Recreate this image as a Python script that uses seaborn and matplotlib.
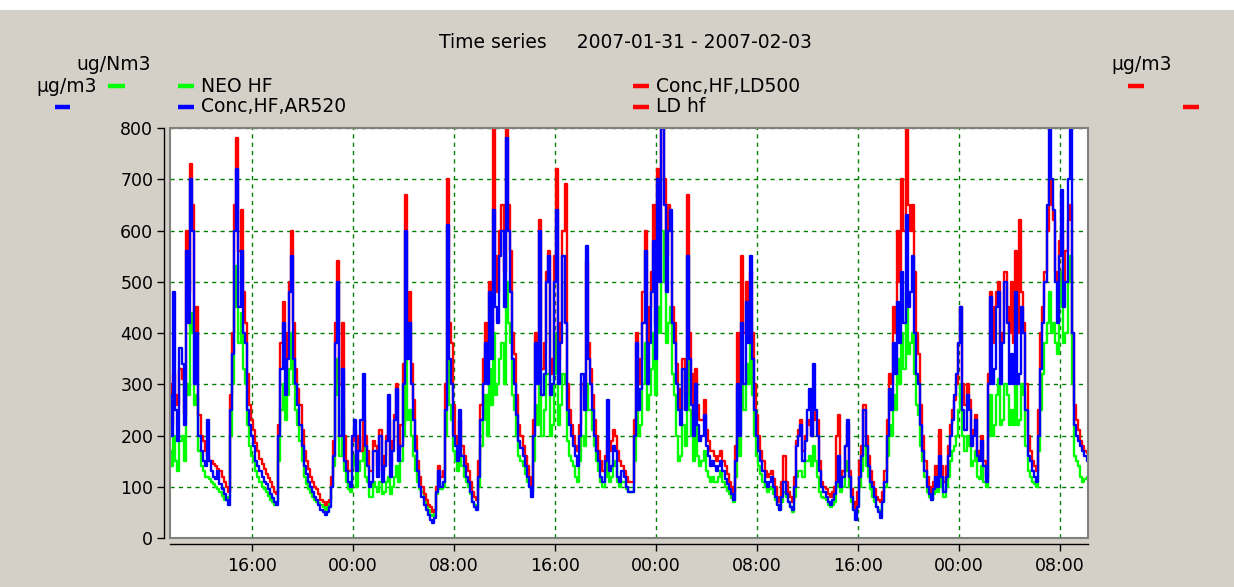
import numpy as np
import pandas as pd
import matplotlib
matplotlib.use("Agg")
import matplotlib.pyplot as plt
import matplotlib.dates as mdates
from matplotlib.lines import Line2D
from matplotlib.patches import Rectangle
import seaborn as sns

# ---------------- data (10-minute samples from 2007-01-31 09:30) ----------------
start_time = "2007-01-31 09:30"
step = "10min"

blue_ar520 = [
    280, 200, 480, 250, 190, 370, 340, 220, 560, 420, 700, 600, 300, 400, 200, 170, 150, 140, 230, 150,
    130, 120, 115, 130, 105, 95, 85, 75, 65, 250, 360, 600, 720, 450, 560, 400, 380, 250, 220, 200,
    180, 150, 140, 130, 120, 110, 105, 95, 85, 78, 70, 65, 200, 330, 420, 280, 350, 480, 550, 350,
    300, 260, 220, 180, 140, 125, 110, 100, 90, 80, 75, 65, 55, 50, 45, 50, 60, 100, 160, 380,
    500, 200, 330, 150, 130, 110, 100, 200, 230, 130, 170, 230, 320, 180, 140, 100, 110, 170, 170, 120,
    200, 110, 140, 190, 280, 120, 170, 230, 290, 150, 180, 300, 600, 350, 420, 300, 230, 170, 130, 100,
    80, 65, 55, 45, 35, 30, 40, 90, 130, 100, 110, 250, 610, 350, 300, 200, 180, 150, 250, 160,
    140, 120, 110, 90, 70, 60, 55, 120, 230, 300, 380, 300, 480, 350, 640, 450, 420, 550, 600, 450,
    780, 600, 480, 350, 300, 240, 190, 175, 160, 140, 120, 100, 80, 200, 380, 300, 600, 280, 320, 500,
    550, 280, 300, 500, 640, 300, 380, 550, 420, 250, 220, 200, 180, 160, 140, 200, 320, 250, 570, 350,
    300, 250, 200, 170, 150, 120, 110, 150, 270, 130, 140, 180, 170, 120, 110, 130, 120, 100, 90, 90,
    90, 200, 380, 250, 290, 420, 560, 300, 380, 480, 580, 350, 700, 500, 800, 650, 480, 600, 640, 420,
    380, 300, 250, 220, 330, 250, 550, 350, 260, 200, 300, 220, 190, 200, 240, 180, 160, 140, 150, 140,
    130, 140, 150, 130, 115, 105, 95, 85, 75, 150, 300, 200, 420, 300, 460, 380, 550, 350, 250, 200,
    170, 150, 130, 110, 100, 110, 120, 100, 80, 65, 55, 80, 110, 85, 70, 60, 55, 100, 180, 200,
    220, 150, 190, 250, 290, 200, 340, 250, 200, 130, 100, 90, 80, 70, 65, 75, 85, 110, 160, 100,
    120, 180, 230, 120, 80, 55, 35, 60, 120, 160, 250, 180, 140, 110, 100, 80, 60, 50, 40, 70,
    110, 200, 290, 250, 380, 320, 460, 380, 520, 420, 630, 450, 480, 550, 400, 320, 300, 220, 170, 130,
    100, 85, 75, 95, 120, 100, 160, 120, 90, 120, 160, 200, 230, 280, 320, 380, 450, 250, 210, 280,
    250, 180, 200, 230, 160, 150, 190, 140, 110, 300, 470, 300, 330, 450, 480, 300, 380, 500, 420, 300,
    360, 300, 480, 300, 320, 450, 400, 250, 160, 150, 130, 120, 110, 200, 330, 420, 500, 650, 800, 700,
    640, 500, 420, 550, 680, 450, 500, 700, 800, 400, 220, 200, 190, 180, 170, 160, 150,
]

red_ld500 = [
    300, 220, 320, 280, 260, 330, 310, 240, 600, 480, 730, 650, 400, 450, 240, 200, 190, 170, 160, 150,
    150, 145, 140, 135, 130, 120, 110, 100, 90, 280, 400, 650, 780, 560, 640, 480, 420, 320, 260, 230,
    210, 185, 170, 155, 145, 135, 125, 118, 110, 100, 90, 85, 220, 380, 460, 330, 400, 500, 600, 420,
    330, 290, 260, 210, 170, 150, 135, 120, 110, 100, 95, 85, 75, 70, 65, 70, 75, 120, 190, 420,
    540, 300, 420, 200, 150, 130, 130, 190, 210, 150, 200, 170, 230, 200, 170, 130, 130, 190, 180, 140,
    210, 130, 160, 200, 230, 140, 190, 240, 300, 170, 220, 340, 670, 400, 480, 340, 270, 200, 150, 120,
    100, 85, 75, 65, 60, 50, 55, 100, 140, 120, 130, 300, 700, 420, 380, 260, 200, 180, 230, 180,
    160, 145, 130, 110, 90, 80, 75, 150, 260, 350, 420, 350, 500, 400, 800, 550, 480, 600, 650, 520,
    800, 650, 560, 400, 360, 280, 220, 200, 180, 160, 140, 120, 100, 230, 400, 350, 620, 330, 380, 520,
    560, 320, 350, 550, 720, 350, 420, 600, 690, 300, 250, 220, 200, 180, 170, 220, 300, 280, 540, 380,
    330, 280, 230, 200, 170, 150, 130, 160, 190, 170, 190, 210, 200, 170, 150, 140, 130, 120, 110, 110,
    110, 230, 400, 300, 350, 480, 600, 380, 450, 520, 650, 420, 720, 600, 800, 700, 550, 650, 600, 450,
    420, 340, 290, 250, 350, 280, 670, 400, 320, 240, 330, 260, 230, 230, 270, 210, 190, 170, 170, 160,
    150, 160, 170, 150, 140, 125, 110, 100, 90, 180, 400, 300, 550, 400, 500, 450, 520, 400, 300, 240,
    200, 170, 150, 130, 120, 125, 130, 115, 100, 80, 70, 110, 160, 110, 90, 80, 70, 120, 190, 210,
    230, 170, 200, 230, 220, 200, 250, 230, 230, 150, 110, 100, 95, 85, 80, 90, 100, 200, 240, 120,
    130, 180, 220, 130, 95, 70, 55, 90, 150, 180, 260, 200, 160, 130, 110, 95, 80, 75, 70, 90,
    130, 230, 320, 300, 450, 400, 600, 500, 700, 600, 800, 650, 600, 650, 520, 400, 360, 260, 200, 150,
    120, 100, 90, 110, 140, 120, 210, 140, 110, 140, 180, 220, 250, 270, 300, 380, 450, 300, 260, 300,
    270, 200, 210, 240, 170, 160, 200, 150, 120, 320, 480, 380, 450, 480, 500, 380, 400, 520, 450, 400,
    500, 380, 560, 400, 620, 480, 420, 300, 200, 170, 150, 140, 130, 250, 400, 450, 520, 600, 700, 650,
    620, 520, 500, 580, 600, 500, 560, 620, 650, 400, 260, 230, 210, 190, 180, 170, 165,
]

green_neo = [
    170, 140, 200, 150, 130, 190, 200, 150, 300, 280, 440, 400, 260, 280, 170, 140, 130, 120, 120, 115,
    110, 105, 100, 95, 90, 82, 75, 78, 80, 200, 300, 450, 530, 380, 440, 330, 300, 220, 180, 160,
    150, 130, 120, 110, 100, 95, 90, 82, 75, 70, 65, 70, 150, 250, 300, 230, 280, 330, 400, 300,
    250, 220, 190, 150, 120, 105, 95, 88, 80, 75, 70, 68, 65, 60, 55, 60, 70, 100, 140, 280,
    350, 160, 250, 130, 110, 95, 90, 140, 160, 100, 130, 150, 180, 120, 110, 80, 80, 110, 100, 90,
    110, 85, 90, 110, 120, 85, 100, 120, 140, 110, 150, 200, 350, 230, 250, 200, 160, 130, 110, 95,
    90, 75, 65, 55, 45, 42, 50, 85, 110, 95, 100, 200, 350, 260, 230, 170, 150, 130, 180, 140,
    120, 110, 100, 85, 70, 65, 60, 100, 180, 230, 280, 200, 330, 260, 400, 280, 300, 350, 380, 300,
    500, 420, 380, 280, 250, 200, 160, 150, 140, 125, 110, 100, 90, 150, 260, 220, 350, 200, 250, 320,
    320, 200, 220, 320, 400, 220, 260, 320, 300, 190, 160, 150, 140, 120, 110, 150, 200, 180, 300, 250,
    250, 210, 180, 150, 130, 110, 100, 120, 160, 110, 120, 150, 140, 110, 100, 110, 110, 95, 90, 90,
    90, 150, 250, 200, 220, 300, 380, 250, 280, 330, 400, 280, 450, 400, 600, 500, 380, 420, 450, 320,
    280, 200, 150, 160, 220, 180, 350, 250, 200, 150, 220, 160, 140, 150, 170, 130, 120, 110, 120, 110,
    110, 120, 130, 110, 100, 92, 85, 78, 70, 120, 200, 160, 300, 250, 340, 300, 420, 280, 200, 160,
    140, 125, 110, 100, 90, 95, 100, 85, 75, 65, 55, 70, 90, 80, 70, 60, 50, 80, 120, 130,
    130, 120, 150, 150, 160, 140, 180, 150, 120, 90, 80, 78, 75, 65, 60, 65, 70, 100, 120, 90,
    100, 130, 150, 100, 70, 55, 50, 70, 100, 130, 180, 140, 120, 95, 80, 70, 60, 55, 50, 70,
    100, 160, 220, 200, 280, 250, 350, 300, 400, 330, 480, 360, 380, 400, 320, 260, 240, 180, 150, 120,
    90, 80, 75, 85, 100, 90, 130, 100, 80, 100, 120, 150, 170, 180, 200, 250, 300, 200, 170, 200,
    180, 140, 150, 170, 120, 115, 140, 110, 100, 200, 280, 200, 220, 280, 310, 220, 230, 300, 280, 220,
    250, 220, 300, 220, 230, 300, 280, 180, 130, 120, 110, 105, 100, 170, 250, 320, 380, 420, 480, 400,
    420, 380, 360, 450, 520, 380, 400, 500, 550, 300, 160, 150, 140, 120, 110, 115, 120,
]

y_ticks = [0, 100, 200, 300, 400, 500, 600, 700, 800]
title_text = "Time series     2007-01-31 - 2007-02-03"

n = min(len(blue_ar520), len(red_ld500), len(green_neo))

# ---------------- figure ----------------
BG = "#d4d0c8"
GRID = "#008000"
plt.rcParams["font.family"] = ["DejaVu Sans"]

fig = plt.figure(figsize=(12.34, 5.87), dpi=100, facecolor=BG)
W, H = 1234, 587
ax = fig.add_axes([170 / W, 1 - 538 / H, (1088 - 170) / W, (538 - 128) / H])
ax.set_facecolor("white")

times = pd.date_range(start_time, periods=n, freq=step)
df = pd.DataFrame({"time": times, "green": green_neo[:n], "red": red_ld500[:n],
                   "blue": blue_ar520[:n]})

for col, color in [("green", "#00ff00"), ("red", "#ff0000"), ("blue", "#0000ff")]:
    sns.lineplot(data=df, x="time", y=col, ax=ax, color=color, lw=1.7,
                 drawstyle="steps-mid", legend=False, zorder=3)

ax.set_ylim(0, 800)
ax.set_xlim(pd.Timestamp(start_time), pd.Timestamp("2007-02-03 10:12"))
ax.set_yticks(y_ticks)
ax.xaxis.set_major_locator(mdates.HourLocator(byhour=[0, 8, 16]))
ax.xaxis.set_major_formatter(mdates.DateFormatter("%H:%M"))
ax.set_xlabel("")
ax.set_ylabel("")

ax.grid(True, color=GRID, linestyle=(0, (3, 3)), lw=1.0, zorder=1)
ax.set_axisbelow(True)

for s in ["top", "right"]:
    ax.spines[s].set_visible(False)
for s in ["left", "bottom"]:
    ax.spines[s].set_position(("outward", 4))
    ax.spines[s].set_color("black")
    ax.spines[s].set_linewidth(1.0)

# sunken frame of the plot area
ax.add_patch(Rectangle((0, 0), 1, 1, transform=ax.transAxes, fill=False,
                       edgecolor="#808080", lw=1.5, clip_on=False, zorder=5))

ax.tick_params(axis="both", direction="out", length=5, width=1, colors="black",
               labelsize=12.5)
ax.tick_params(axis="x", pad=5)
ax.tick_params(axis="y", pad=3)

# top white strip
fig.patches.append(Rectangle((0, 1 - 10 / H), 1, 10 / H, transform=fig.transFigure,
                             facecolor="white", edgecolor="none", zorder=0))

# title
fig.text(625 / W, 1 - 43 / H, title_text, ha="center", va="center", fontsize=13.5)

# legend-like header
def dash(x0, x1, y, color):
    fig.lines.append(Line2D([x0 / W, x1 / W], [1 - y / H, 1 - y / H],
                            transform=fig.transFigure, color=color, lw=3.2,
                            solid_capstyle="butt"))

def txt(x, y, s, ha="left"):
    fig.text(x / W, 1 - y / H, s, ha=ha, va="center", fontsize=13.5)

txt(151, 65, "ug/Nm3", ha="right")
txt(97, 86, "µg/m3", ha="right")
dash(108, 125, 86, "#00ff00")
dash(55, 70, 107, "#0000ff")

dash(178, 194, 86, "#00ff00")
txt(201, 86, "NEO HF")
dash(178, 194, 107, "#0000ff")
txt(201, 107, "Conc,HF,AR520")

dash(633, 649, 86, "#ff0000")
txt(656, 86, "Conc,HF,LD500")
dash(633, 649, 107, "#ff0000")
txt(656, 107, "LD hf")

txt(1172, 65, "µg/m3", ha="right")
dash(1128, 1144, 86, "#ff0000")
dash(1183, 1199, 107, "#ff0000")

fig.savefig("out.png", dpi=100, facecolor=BG)
